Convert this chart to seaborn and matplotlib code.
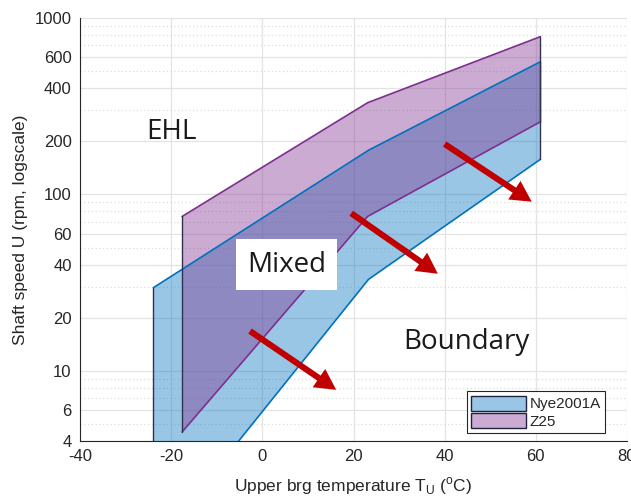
import matplotlib
matplotlib.use("Agg")
import matplotlib.pyplot as plt
import seaborn as sns
import numpy as np
import pandas as pd
from matplotlib.ticker import FixedLocator, LogLocator, NullFormatter
from matplotlib.patches import Patch
from matplotlib.colors import to_rgba

# ---- data ----
nye_temp = [-23.9, 23.3, 61.0]
nye_upper = [29.6, 178.0, 565.0]
nye_lower = [1.0, 33.0, 158.0]

z25_temp = [-17.6, 23.1, 61.0]
z25_upper = [75.0, 331.0, 784.0]
z25_lower = [4.5, 75.0, 258.0]

series_names = ["Nye2001A", "Z25"]

arrow_start_temp = [-2.7, 19.5, 40.0]
arrow_start_speed = [16.8, 78.2, 193.0]
arrow_end_temp = [16.2, 38.5, 59.1]
arrow_end_speed = [7.8, 35.5, 90.9]

x_ticks = [-40, -20, 0, 20, 40, 60, 80]
y_ticks = [4, 6, 10, 20, 40, 60, 100, 200, 400, 600, 1000]

region_labels = ["EHL", "Mixed", "Boundary"]
region_temp = [-20.0, 5.3, 44.8]
region_speed = [225, 40, 14.6]

# ---- style ----
sns.set_theme(style="white")
plt.rcParams['font.family'] = ['Liberation Sans', 'DejaVu Sans']
plt.rcParams['axes.unicode_minus'] = False

blue = "#0072BD"
purple = "#7E2F8E"
alpha = 0.4

fig = plt.figure(figsize=(6.31, 5.04), dpi=100)
ax = fig.add_axes([80/631, 63/504, 547/631, 423/504])

df_nye = pd.DataFrame({"T": nye_temp, "lo": nye_lower, "hi": nye_upper})
df_z = pd.DataFrame({"T": z25_temp, "lo": z25_lower, "hi": z25_upper})

for df, col in [(df_nye, blue), (df_z, purple)]:
    ax.fill_between(df["T"], df["lo"], df["hi"], facecolor=col, alpha=alpha,
                    edgecolor="none", zorder=2)
    sns.lineplot(x=df["T"], y=df["hi"], ax=ax, color=col, lw=1.2, zorder=3)
    sns.lineplot(x=df["T"], y=df["lo"], ax=ax, color=col, lw=1.2, zorder=3)
    ax.plot([df["T"].iloc[0]] * 2, [df["lo"].iloc[0], df["hi"].iloc[0]],
            color="#303050", lw=1.0, zorder=3)
    ax.plot([df["T"].iloc[-1]] * 2, [df["lo"].iloc[-1], df["hi"].iloc[-1]],
            color="#303050", lw=1.0, zorder=3)

ax.set_yscale("log")
ax.set_xlim(-40, 80)
ax.set_ylim(4, 1000)
ax.xaxis.set_major_locator(FixedLocator(x_ticks))
ax.set_xticklabels([str(v) for v in x_ticks])
ax.yaxis.set_major_locator(FixedLocator(y_ticks))
ax.set_yticklabels([str(v) for v in y_ticks])
ax.yaxis.set_minor_locator(LogLocator(base=10, subs=np.arange(2, 10)))
ax.yaxis.set_minor_formatter(NullFormatter())

ax.grid(True, which="major", color="#e3e3e3", lw=0.9, zorder=0)
ax.grid(True, which="minor", axis="y", color="#dcdcdc", lw=0.9,
        linestyle=(0, (1, 2)), zorder=0)
ax.set_axisbelow(True)

for s in ["top", "right"]:
    ax.spines[s].set_visible(False)
for s in ["left", "bottom"]:
    ax.spines[s].set_color("#262626")
    ax.spines[s].set_linewidth(0.8)

ax.tick_params(axis="both", which="major", direction="in", length=5,
               labelsize=12, colors="#262626", width=0.8, pad=6)
ax.tick_params(axis="y", which="minor", direction="in", length=0)

ax.set_xlabel(r"Upper brg temperature T$_\mathregular{U}$ ($^\mathregular{o}$C)",
              fontsize=12.5, color="#262626", labelpad=8)
ax.set_ylabel("Shaft speed U (rpm, logscale)", fontsize=12.5, color="#262626",
              labelpad=5)

# arrows
for xs, ys, xe, ye in zip(arrow_start_temp, arrow_start_speed,
                          arrow_end_temp, arrow_end_speed):
    ax.annotate("", xy=(xe, ye), xytext=(xs, ys),
                arrowprops=dict(arrowstyle="simple,head_length=0.75,head_width=0.8,tail_width=0.22",
                                facecolor="#C00000", edgecolor="none", lw=0,
                                mutation_scale=20, shrinkA=0, shrinkB=0),
                zorder=5)

# region labels
for lab, xt, yt in zip(region_labels, region_temp, region_speed):
    kw = {}
    if lab == "Mixed":
        kw["bbox"] = dict(facecolor="white", edgecolor="none", pad=8)
    ax.text(xt, yt, lab, fontsize=20, family=["Open Sans", "DejaVu Sans"],
            color="#1a1a1a", ha="center", va="center", zorder=6, **kw)

# legend
handles = [Patch(facecolor=to_rgba(blue, alpha), edgecolor="#202040", lw=1.0),
           Patch(facecolor=to_rgba(purple, alpha), edgecolor="#202040", lw=1.0)]
leg = ax.legend(handles, series_names, loc="lower right",
                bbox_to_anchor=(0.96, 0.018), fontsize=11, frameon=True,
                fancybox=False, edgecolor="#262626", framealpha=1,
                handlelength=3.6, handleheight=1.1, handletextpad=0.2,
                borderpad=0.3, labelspacing=0.12, borderaxespad=0)
leg.get_frame().set_linewidth(0.8)

fig.savefig("out.png", dpi=100)
